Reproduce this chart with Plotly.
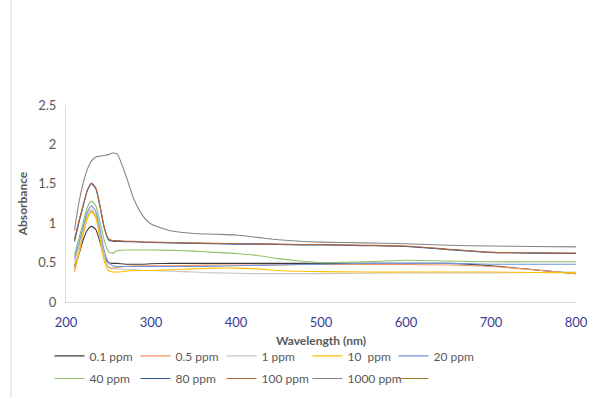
import plotly.graph_objects as go

wavelength = [210, 215, 220, 225, 230, 235, 240, 245, 250, 255, 260, 270, 280, 290, 300,
              325, 350, 375, 400, 425, 450, 475, 500, 550, 600, 650, 700, 750, 800]

ppm_0_1 = [0.45, 0.60, 0.78, 0.91, 0.96, 0.92, 0.76, 0.58, 0.50, 0.49, 0.49, 0.48, 0.48, 0.48, 0.485,
           0.49, 0.49, 0.49, 0.49, 0.49, 0.49, 0.49, 0.49, 0.49, 0.49, 0.49, 0.46, 0.41, 0.36]
ppm_0_5 = [0.38, 0.60, 0.85, 1.06, 1.16, 1.10, 0.85, 0.58, 0.45, 0.43, 0.44, 0.45, 0.46, 0.46, 0.46,
           0.46, 0.465, 0.47, 0.47, 0.47, 0.47, 0.475, 0.475, 0.475, 0.475, 0.47, 0.45, 0.41, 0.36]
ppm_1 = [0.50, 0.70, 0.92, 1.10, 1.18, 1.10, 0.85, 0.58, 0.44, 0.42, 0.42, 0.41, 0.41, 0.40, 0.40,
         0.39, 0.38, 0.37, 0.365, 0.36, 0.36, 0.36, 0.36, 0.365, 0.37, 0.37, 0.37, 0.375, 0.38]
ppm_10 = [0.42, 0.62, 0.86, 1.06, 1.14, 1.07, 0.80, 0.52, 0.40, 0.38, 0.38, 0.39, 0.40, 0.40, 0.40,
          0.41, 0.42, 0.43, 0.43, 0.42, 0.40, 0.39, 0.385, 0.38, 0.38, 0.38, 0.38, 0.375, 0.37]
ppm_20 = [0.55, 0.74, 0.95, 1.14, 1.22, 1.15, 0.92, 0.65, 0.50, 0.46, 0.45, 0.45, 0.45, 0.45, 0.45,
          0.45, 0.45, 0.455, 0.46, 0.465, 0.47, 0.475, 0.48, 0.49, 0.49, 0.49, 0.48, 0.48, 0.48]
ppm_40 = [0.60, 0.80, 1.00, 1.20, 1.28, 1.22, 1.02, 0.78, 0.64, 0.62, 0.65, 0.66, 0.66, 0.66, 0.66,
          0.655, 0.645, 0.63, 0.615, 0.59, 0.55, 0.52, 0.50, 0.51, 0.53, 0.52, 0.51, 0.51, 0.51]
ppm_80 = [0.77, 1.00, 1.21, 1.41, 1.50, 1.44, 1.21, 0.94, 0.79, 0.77, 0.77, 0.765, 0.765, 0.76, 0.755,
          0.75, 0.745, 0.74, 0.735, 0.735, 0.73, 0.725, 0.725, 0.715, 0.705, 0.665, 0.63, 0.62, 0.615]
ppm_100 = [0.80, 1.02, 1.22, 1.42, 1.51, 1.45, 1.22, 0.95, 0.80, 0.78, 0.78, 0.77, 0.77, 0.76, 0.76,
           0.755, 0.75, 0.745, 0.74, 0.74, 0.735, 0.73, 0.73, 0.72, 0.71, 0.67, 0.63, 0.625, 0.62]
ppm_1000 = [0.91, 1.25, 1.50, 1.68, 1.79, 1.84, 1.85, 1.86, 1.87, 1.89, 1.88, 1.62, 1.30, 1.10, 0.99,
            0.90, 0.87, 0.86, 0.85, 0.82, 0.79, 0.77, 0.76, 0.75, 0.74, 0.72, 0.71, 0.705, 0.70]
unnamed = []

series_names = ["0.1 ppm", "0.5 ppm", "1 ppm", "10  ppm", "20 ppm",
                "40 ppm", "80 ppm", "100 ppm", "1000 ppm", " "]
series_values = [ppm_0_1, ppm_0_5, ppm_1, ppm_10, ppm_20,
                 ppm_40, ppm_80, ppm_100, ppm_1000, unnamed]
series_colors = ["#3a3a3a", "#F09560", "#C4C4C4", "#FFC000", "#7094D6",
                 "#8CC168", "#2F5597", "#B0643A", "#858585", "#A0822E"]

fig = go.Figure()
for i, (name, vals, col) in enumerate(zip(series_names, series_values, series_colors)):
    fig.add_trace(go.Scatter(
        x=wavelength[:len(vals)] if vals else [None], y=vals if vals else [None],
        name=name, mode="lines",
        line=dict(color=col, width=1.1, shape="spline", smoothing=0.6),
        showlegend=True,
        legend="legend" if i < 5 else "legend2",
    ))

font_family = "Lato, Calibri, Carlito, sans-serif"
legend_common = dict(
    orientation="h", xanchor="left", yanchor="top",
    font=dict(size=12, color="#595959"),
    entrywidthmode="pixels", entrywidth=41,
    itemwidth=30, tracegroupgap=0,
    bgcolor="rgba(0,0,0,0)",
)
fig.update_layout(
    width=589, height=398,
    margin=dict(l=66, r=13, t=105, b=96, autoexpand=False),
    paper_bgcolor="white", plot_bgcolor="white",
    font=dict(family=font_family, size=13, color="#595959"),
    hovermode=False,
    xaxis=dict(
        range=[200, 800], dtick=100, tick0=200,
        showgrid=False, zeroline=False,
        showline=True, linecolor="#D9D9D9", linewidth=1,
        ticks="", tickfont=dict(size=13, color="#3B3B98"),
        ticklabelstandoff=8,
        title=dict(text="<b>Wavelength (nm)</b>", font=dict(size=12, color="#595959"), standoff=8),
    ),
    yaxis=dict(
        range=[0, 2.5], dtick=0.5, tick0=0,
        showgrid=False, zeroline=False,
        showline=True, linecolor="#D9D9D9", linewidth=1,
        ticks="", tickfont=dict(size=13, color="#595959"),
        ticklabelstandoff=6,
        title=dict(text="<b>Absorbance</b>", font=dict(size=12, color="#595959"), standoff=8),
    ),
    legend=dict(x=-0.0324, y=-0.2, **legend_common),
    legend2=dict(x=-0.0324, y=-0.315, **legend_common),
    shapes=[dict(type="line", xref="paper", yref="paper",
                 x0=(11 - 66) / 510, x1=(11 - 66) / 510, y0=-96 / 197, y1=302 / 197,
                 line=dict(color="#D9D9D9", width=1))],
)

fig.write_html("out.html", config={"displayModeBar": False},
               post_script="document.body.style.margin='0';")
